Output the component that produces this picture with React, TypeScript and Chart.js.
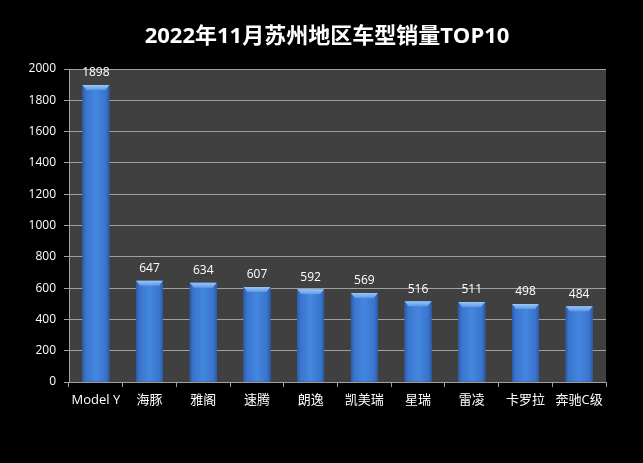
import React, { useEffect, useRef } from "react";
import { Chart, registerables } from "chart.js";

Chart.register(...registerables);

const categories = ["Model Y", "海豚", "雅阁", "速腾", "朗逸", "凯美瑞", "星瑞", "雷凌", "卡罗拉", "奔驰C级"];
const sales = [1898, 647, 634, 607, 592, 569, 516, 511, 498, 484];
const titleText = "2022年11月苏州地区车型销量TOP10";
const yMax = 2000;
const yStep = 200;

const FONT = "'Open Sans', 'Noto Sans CJK SC', sans-serif";

const bgPlugin = {
  id: "bgPlugin",
  beforeDraw(chart: any) {
    const { ctx, chartArea } = chart;
    ctx.save();
    ctx.fillStyle = "#000000";
    ctx.fillRect(0, 0, chart.width, chart.height);
    ctx.fillStyle = "#404040";
    ctx.fillRect(chartArea.left, chartArea.top, chartArea.right - chartArea.left, chartArea.bottom - chartArea.top);
    ctx.restore();
  },
  afterDraw(chart: any) {
    const { ctx } = chart;
    ctx.save();
    ctx.fillStyle = "#ffffff";
    ctx.font = `bold 22px ${FONT}`;
    ctx.textAlign = "center";
    ctx.textBaseline = "middle";
    ctx.fillText(titleText, 327, 37);
    ctx.restore();
  },
};

const barStylePlugin = {
  id: "barStyle",
  afterDatasetsDraw(chart: any) {
    const { ctx } = chart;
    const meta = chart.getDatasetMeta(0);
    ctx.save();
    meta.data.forEach((bar: any, i: number) => {
      const { x, y, base, width } = bar.getProps(["x", "y", "base", "width"], true);
      const l = x - width / 2;
      const r = x + width / 2;
      const g = ctx.createLinearGradient(l, 0, r, 0);
      g.addColorStop(0, "#2a5aa8");
      g.addColorStop(0.12, "#3a74cc");
      g.addColorStop(0.5, "#4487e0");
      g.addColorStop(0.88, "#3a74cc");
      g.addColorStop(1, "#2a5aa8");
      ctx.fillStyle = g;
      ctx.fillRect(l, y, width, base - y);
      const capH = 5;
      const inset = 4;
      const cg = ctx.createLinearGradient(0, y, 0, y + capH);
      cg.addColorStop(0, "#9cc6f7");
      cg.addColorStop(1, "#5d98e6");
      ctx.fillStyle = cg;
      ctx.beginPath();
      ctx.moveTo(l, y);
      ctx.lineTo(r, y);
      ctx.lineTo(r - inset, y + capH);
      ctx.lineTo(l + inset, y + capH);
      ctx.closePath();
      ctx.fill();
      ctx.fillStyle = "#ffffff";
      ctx.font = `12px ${FONT}`;
      ctx.textAlign = "center";
      ctx.textBaseline = "bottom";
      ctx.fillText(String(sales[i]), x, y - 6);
    });
    ctx.restore();
  },
};

export default function App() {
  const ref = useRef<HTMLCanvasElement>(null);
  useEffect(() => {
    if (!ref.current) return;
    const chart = new Chart(ref.current, {
      type: "bar",
      data: {
        labels: categories,
        datasets: [
          {
            data: sales,
            backgroundColor: "#3a78d4",
            barPercentage: 0.5,
            categoryPercentage: 1,
          },
        ],
      },
      options: {
        responsive: false,
        animation: false,
        devicePixelRatio: 1,
        layout: { padding: { left: 0, right: 37, top: 69, bottom: 0 } },
        plugins: {
          legend: { display: false },
          tooltip: { enabled: false },
          title: { display: false },
        },
        scales: {
          x: {
            afterFit(scale: any) {
              scale.height = 81;
            },
            grid: {
              offset: true,
              drawOnChartArea: false,
              drawTicks: true,
              tickLength: 5,
              color: "#a0a0a0",
            },
            border: { display: true, color: "#a0a0a0" },
            ticks: {
              color: "#ffffff",
              font: { size: 13, family: FONT },
              padding: 5,
              maxRotation: 0,
              autoSkip: false,
            },
          },
          y: {
            min: 0,
            max: yMax,
            afterFit(scale: any) {
              scale.width = 69;
            },
            grid: {
              color: "#a0a0a0",
              tickLength: 5,
              drawTicks: true,
            },
            border: { display: true, color: "#a0a0a0" },
            ticks: {
              stepSize: yStep,
              color: "#ffffff",
              font: { size: 12, family: FONT },
              padding: 8,
              callback: (v: any) => String(v),
            },
          },
        },
      },
      plugins: [bgPlugin, barStylePlugin],
    });
    return () => chart.destroy();
  }, []);
  return (
    <div style={{ position: "fixed", left: 0, top: 0, width: 643, height: 463, background: "#000" }}>
      <canvas ref={ref} width={643} height={463} style={{ display: "block" }} />
    </div>
  );
}
